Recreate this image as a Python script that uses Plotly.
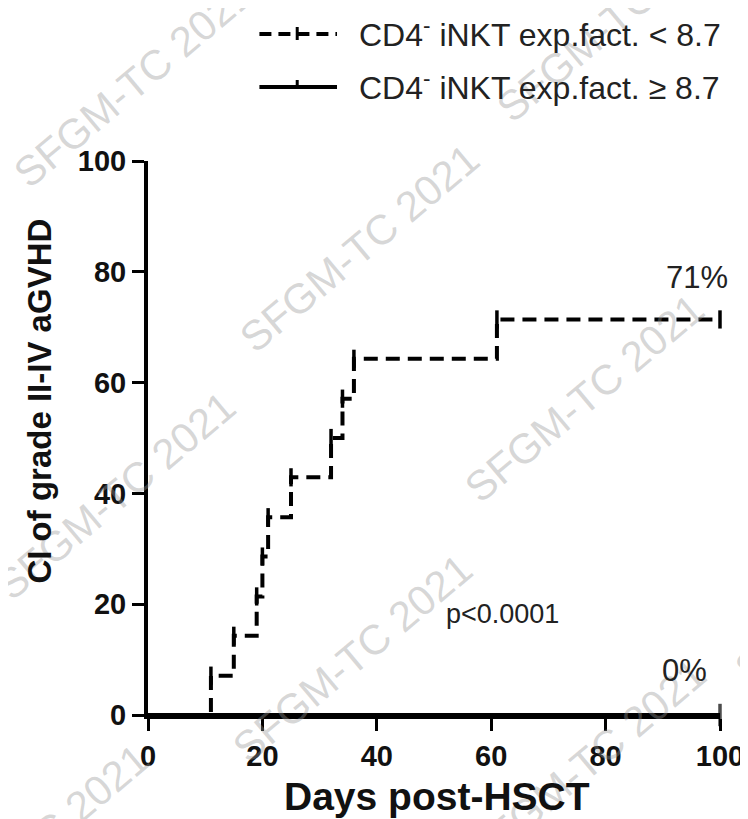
import plotly.graph_objects as go

# ---- data ----
days_low = [0, 11, 15, 19, 20, 21, 25, 32, 34, 36, 61, 100]
ci_low = [0, 7.1, 14.3, 21.4, 28.6, 35.7, 42.9, 50.0, 57.1, 64.3, 71.4, 71.4]
days_high = [0, 100]
ci_high = [0, 0]
x_ticks = [0, 20, 40, 60, 80, 100]
y_ticks = [0, 20, 40, 60, 80, 100]
label_low = "CD4<sup>-</sup> iNKT exp.fact. &lt; 8.7"
label_high = "CD4<sup>-</sup> iNKT exp.fact. ≥ 8.7"
final_low = "71%"
final_high = "0%"
p_text = "p&lt;0.0001"

FONT = "Arial, Liberation Sans, sans-serif"
W, H = 748, 819
L, R, T, B = 140, 33, 153, 112
PW, PH = W - L - R, H - T - B


def px(xp):
    return (xp - L) / PW


def py(yp):
    return (H - B - yp) / PH


fig = go.Figure()

# dashed step curve
fig.add_trace(go.Scatter(
    x=days_low, y=ci_low, mode="lines", line_shape="hv",
    line=dict(color="black", width=4, dash="14px,8px"),
    cliponaxis=False, showlegend=False, hoverinfo="skip"))
# censor ticks
fig.add_trace(go.Scatter(
    x=days_low[1:], y=ci_low[1:], mode="markers",
    marker=dict(symbol="line-ns", size=13, line=dict(color="black", width=3.5)),
    cliponaxis=False, showlegend=False, hoverinfo="skip"))
# solid curve at 0
fig.add_trace(go.Scatter(
    x=days_high, y=ci_high, mode="lines+markers",
    line=dict(color="black", width=4),
    marker=dict(symbol="line-ns", size=[0, 16], line=dict(color="black", width=3.5)),
    cliponaxis=False, showlegend=False, hoverinfo="skip"))

# watermarks
wm = [(125, 75), (352, 240), (108, 488), (578, 390), (345, 650), (580, 755),
      (610, 10), (860, 200), (20, 840), (850, 570)]
annotations = []
for (xw, yw) in wm:
    annotations.append(dict(
        x=px(xw), y=py(yw), xref="paper", yref="paper", text="SFGM-TC 2021",
        showarrow=False, textangle=-40, xanchor="center", yanchor="middle",
        font=dict(family=FONT, size=42, color="rgba(150,150,150,0.38)")))

# axis titles
annotations.append(dict(
    x=px(30), y=py(393), xref="paper", yref="paper",
    text="<b>CI of grade II-IV aGVHD</b>", showarrow=False, textangle=-90,
    xanchor="center", yanchor="middle",
    font=dict(family=FONT, size=33, color="#111")))
annotations.append(dict(
    x=px(431), y=py(789), xref="paper", yref="paper",
    text="<b>Days post-HSCT</b>", showarrow=False,
    xanchor="center", yanchor="middle",
    font=dict(family=FONT, size=39, color="#111")))

# in-plot labels
annotations.append(dict(x=100, y=79, xref="x", yref="y", text=final_low,
                        showarrow=False, xanchor="right", yanchor="middle",
                        xshift=10,
                        font=dict(family=FONT, size=31, color="#222")))
annotations.append(dict(x=98, y=8, xref="x", yref="y", text=final_high,
                        showarrow=False, xanchor="right", yanchor="middle",
                        font=dict(family=FONT, size=31, color="#222")))
annotations.append(dict(x=62, y=18.2, xref="x", yref="y", text=p_text,
                        showarrow=False, xanchor="center", yanchor="middle",
                        font=dict(family=FONT, size=27, color="#222")))

# legend (manual)
annotations.append(dict(x=px(350), y=py(25), xref="paper", yref="paper",
                        text=label_low, showarrow=False, xanchor="left",
                        yanchor="middle",
                        font=dict(family=FONT, size=32, color="#222")))
annotations.append(dict(x=px(350), y=py(78), xref="paper", yref="paper",
                        text=label_high, showarrow=False, xanchor="left",
                        yanchor="middle",
                        font=dict(family=FONT, size=32, color="#222")))

shapes = [
    dict(type="line", xref="paper", yref="paper", x0=px(252), x1=px(330),
         y0=py(26), y1=py(26), line=dict(color="black", width=4, dash="12px,7px")),
    dict(type="line", xref="paper", yref="paper", x0=px(290), x1=px(290),
         y0=py(19), y1=py(32), line=dict(color="black", width=3)),
    dict(type="line", xref="paper", yref="paper", x0=px(252), x1=px(330),
         y0=py(79), y1=py(79), line=dict(color="black", width=4)),
    dict(type="line", xref="paper", yref="paper", x0=px(290), x1=px(290),
         y0=py(72), y1=py(79), line=dict(color="black", width=3)),
]

axis_common = dict(
    showline=True, linecolor="black", linewidth=4, ticks="outside",
    ticklen=12, tickwidth=3, tickcolor="black", showgrid=False, zeroline=False,
    tickfont=dict(family=FONT, size=29, color="#111", weight="bold"),
)

fig.update_layout(
    width=W, height=H, autosize=False,
    margin=dict(l=L, r=R, t=T, b=B),
    paper_bgcolor="white", plot_bgcolor="white",
    xaxis=dict(range=[0, 100], tickvals=x_ticks, **axis_common),
    yaxis=dict(range=[0, 100], tickvals=y_ticks, **axis_common),
    annotations=annotations, shapes=shapes,
)

fig.write_html("out.html")
